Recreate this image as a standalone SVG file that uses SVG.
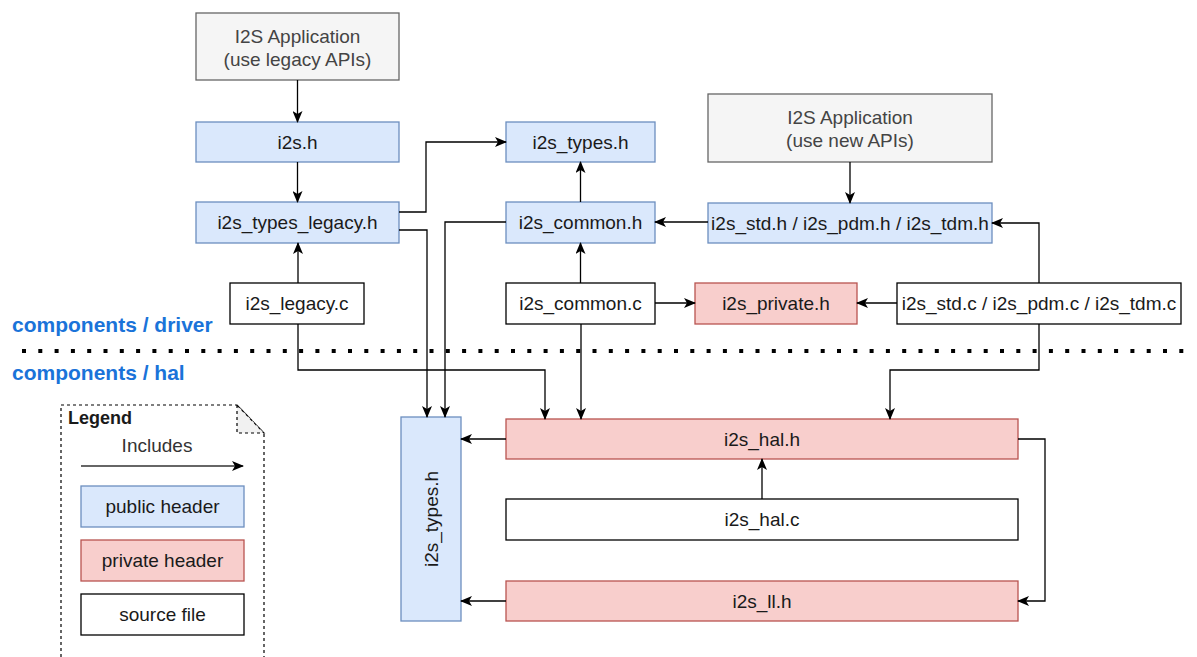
<svg xmlns="http://www.w3.org/2000/svg" width="1197" height="657" viewBox="0 0 1197 657">
<style>
text{font-family:"Liberation Sans",Arial,sans-serif;font-size:19px;fill:#1a1a1a;text-anchor:middle;dominant-baseline:central}
.app{fill:#f5f5f5;stroke:#666666;stroke-width:1.3}
.apptxt{fill:#444444}
.pub{fill:#dae8fc;stroke:#6c8ebf;stroke-width:1.3}
.pri{fill:#f8cecc;stroke:#b85450;stroke-width:1.3}
.src{fill:#ffffff;stroke:#000000;stroke-width:1.3}
.c path{fill:none;stroke:#000;stroke-width:1.3;marker-end:url(#ah)}
.lbl{font-weight:bold;fill:#1a73d9;font-size:21px;text-anchor:start}
</style>
<defs>
<marker id="ah" markerUnits="userSpaceOnUse" markerWidth="12" markerHeight="10" viewBox="0 0 12 10" refX="11" refY="5" orient="auto">
<path d="M0,0 L12,5 L0,10 L3,5 z" fill="#000"/>
</marker>
</defs>
<rect width="1197" height="657" fill="#ffffff"/>

<g id="app-legacy"><rect class="app" x="196" y="13" width="203" height="67"/><text class="apptxt" x="297.5" y="36">I2S Application</text><text class="apptxt" x="297.5" y="59">(use legacy APIs)</text></g>
<g id="i2s-h"><rect class="pub" x="196" y="122" width="203" height="40"/><text x="297.5" y="142">i2s.h</text></g>
<g id="types-legacy"><rect class="pub" x="196" y="202" width="203" height="41"/><text x="297.5" y="222.5">i2s_types_legacy.h</text></g>
<g id="types-h-top"><rect class="pub" x="506" y="122" width="149" height="40"/><text x="580.5" y="142">i2s_types.h</text></g>
<g id="common-h"><rect class="pub" x="506" y="202" width="149" height="41"/><text x="580.5" y="222.5">i2s_common.h</text></g>
<g id="app-new"><rect class="app" x="708" y="94" width="284" height="68"/><text class="apptxt" x="850" y="117">I2S Application</text><text class="apptxt" x="850" y="140">(use new APIs)</text></g>
<g id="std-h"><rect class="pub" x="708" y="203" width="284" height="40"/><text x="850" y="223">i2s_std.h / i2s_pdm.h / i2s_tdm.h</text></g>
<g id="legacy-c"><rect class="src" x="230" y="283" width="134" height="41"/><text x="297" y="303.5">i2s_legacy.c</text></g>
<g id="common-c"><rect class="src" x="506" y="283" width="149" height="41"/><text x="580.5" y="303.5">i2s_common.c</text></g>
<g id="private-h"><rect class="pri" x="695" y="283" width="162" height="41"/><text x="776" y="303.5">i2s_private.h</text></g>
<g id="std-c"><rect class="src" x="897" y="283" width="284" height="41"/><text x="1039" y="303.5">i2s_std.c / i2s_pdm.c / i2s_tdm.c</text></g>
<g id="types-h"><rect class="pub" x="401" y="417" width="60" height="204"/><text x="431" y="519" transform="rotate(-90 431 519)">i2s_types.h</text></g>
<g id="hal-h"><rect class="pri" x="506" y="419" width="512" height="40"/><text x="762" y="439">i2s_hal.h</text></g>
<g id="hal-c"><rect class="src" x="506" y="499" width="512" height="41"/><text x="762" y="519.5">i2s_hal.c</text></g>
<g id="ll-h"><rect class="pri" x="506" y="581" width="512" height="40"/><text x="762" y="601">i2s_ll.h</text></g>

<g id="layers">
<text class="lbl" x="12" y="324">components / driver</text>
<line x1="22" y1="351" x2="1192" y2="351" stroke="#000" stroke-width="4" stroke-dasharray="4 12.3"/>
<text class="lbl" x="12" y="372">components / hal</text>
</g>

<g id="connectors" class="c">
<path d="M297.5,80 V122"/>
<path d="M297.5,162 V202"/>
<path d="M399,212 H426 V142 H506"/>
<path d="M399,230 H427 V417"/>
<path d="M506,222 H445 V417"/>
<path d="M580.5,202 V162"/>
<path d="M708,222 H655"/>
<path d="M850,162 V203"/>
<path d="M1039,283 V223 H992"/>
<path d="M897,303 H857"/>
<path d="M655,303 H695"/>
<path d="M580.5,283 V243"/>
<path d="M298,283 V243"/>
<path d="M298,324 V370 H545 V419"/>
<path d="M581,324 V419"/>
<path d="M1039,324 V370 H890 V419"/>
<path d="M506,439 H461"/>
<path d="M506,601 H461"/>
<path d="M762,499 V459"/>
<path d="M1018,439 H1045 V601 H1018"/>
</g>

<g id="legend">
<path d="M61,657 V405 H237 L264,433 V657" fill="#ffffff" stroke="#000" stroke-width="1.2" stroke-dasharray="3 3"/>
<path d="M237,405 V433 H264 Z" fill="#f1f1f1" stroke="#000" stroke-width="1.2" stroke-dasharray="3 3"/>
<text x="68" y="418" style="font-weight:bold;text-anchor:start;font-size:18px">Legend</text>
<text x="157" y="445" style="fill:#333">Includes</text>
<path d="M81,466 H243" fill="none" stroke="#333" stroke-width="1.3" marker-end="url(#ah)"/>
<rect class="pub" x="81" y="486" width="163" height="41"/><text x="162.5" y="506.5">public header</text>
<rect class="pri" x="81" y="540" width="163" height="41"/><text x="162.5" y="560.5">private header</text>
<rect class="src" x="81" y="594" width="163" height="41"/><text x="162.5" y="614.5">source file</text>
</g>
</svg>
